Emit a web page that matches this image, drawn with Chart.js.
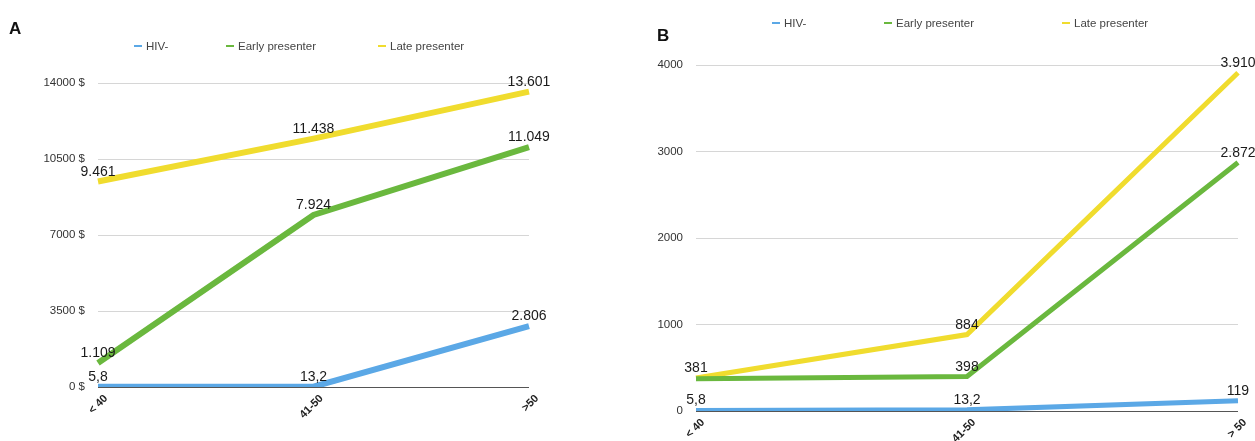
<!DOCTYPE html>
<html><head><meta charset="utf-8">
<script src="https://cdn.jsdelivr.net/npm/chart.js@4.4.1/dist/chart.umd.min.js"></script>
<style>
html,body{margin:0;padding:0;background:#fff;width:1255px;height:441px;overflow:hidden;font-family:"Liberation Sans",Arial,sans-serif;}
canvas{position:absolute;top:0;}
#ca{left:0;} #cb{left:620px;}
.letter{position:absolute;font-weight:bold;font-size:17px;color:#111;line-height:17px;}
.leg{position:absolute;font-size:11.5px;color:#444;line-height:12px;white-space:nowrap;}
.mk{position:absolute;height:2px;width:8px;}
</style></head>
<body>
<canvas id="ca" width="620" height="441"></canvas>
<canvas id="cb" width="635" height="441"></canvas>
<div class="letter" style="left:9px;top:20px;">A</div>
<div class="letter" style="left:657px;top:27px;">B</div>
<div id="legA"></div><div id="legB"></div>
<script>
// ---- data ----
const categoriesA = ['< 40', '41-50', '>50'];
const categoriesB = ['< 40', '41-50', '> 50'];
const seriesNames = ['HIV-', 'Early presenter', 'Late presenter'];
const hivA   = [5.8, 13.2, 2806];
const earlyA = [1109, 7924, 11049];
const lateA  = [9461, 11438, 13601];
const hivB   = [5.8, 13.2, 119];
const earlyB = [372, 398, 2872];
const lateB  = [381, 884, 3910];
const yTicksA = [0, 3500, 7000, 10500, 14000];
const yTicksB = [0, 1000, 2000, 3000, 4000];
const hiddenLabelsB = {1: [0]}; // early presenter's first label sits under the late presenter's one

// ---- styling ----
const colors = ['#5ba8e6', '#6ab83e', '#f0dc2e'];
const FONT = '"Liberation Sans", Arial, sans-serif';

function fmt(v) {
  if (Number.isInteger(v)) return String(v).replace(/\B(?=(\d{3})+(?!\d))/g, '.');
  return String(v).replace('.', ',');
}

const valueLabels = {
  id: 'valueLabels',
  afterDatasetsDraw(chart, args, o) {
    const ctx = chart.ctx;
    ctx.save();
    ctx.font = '14px ' + FONT;
    ctx.fillStyle = '#1a1a1a';
    ctx.textAlign = 'center';
    ctx.textBaseline = 'alphabetic';
    const hidden = (o && o.hidden) || {};
    chart.data.datasets.forEach((ds, i) => {
      const meta = chart.getDatasetMeta(i);
      const hide = hidden[i] || [];
      meta.data.forEach((pt, j) => {
        if (hide.includes(j)) return;
        ctx.fillText(fmt(ds.data[j]), pt.x, pt.y - 6);
      });
    });
    ctx.restore();
  }
};

function makeChart(id, cats, series, ticks, cfg) {
  return new Chart(document.getElementById(id), {
    type: 'line',
    data: {
      labels: cats,
      datasets: series.map((d, i) => ({
        label: seriesNames[i], data: d, borderColor: colors[i], backgroundColor: colors[i],
        borderWidth: cfg.lw, pointRadius: 0, tension: 0, fill: false,
        borderCapStyle: 'butt', borderJoinStyle: 'miter'
      }))
    },
    options: {
      responsive: false, animation: false, devicePixelRatio: 1,
      layout: { padding: { left: 0, right: cfg.padRight, top: cfg.padTop, bottom: 0 } },
      plugins: { legend: { display: false }, tooltip: { enabled: false }, valueLabels: { hidden: cfg.hidden || {} } },
      scales: {
        x: {
          offset: false,
          grid: { display: false, drawTicks: false },
          border: { display: false },
          ticks: { minRotation: 45, maxRotation: 45, padding: 5, labelOffset: cfg.xOff, color: '#222',
                   font: { family: FONT, size: 11, weight: 'bold' } },
          afterFit(s) { s.height = cfg.xHeight; }
        },
        y: {
          min: ticks[0], max: ticks[ticks.length - 1],
          afterBuildTicks(s) { s.ticks = ticks.map(v => ({ value: v })); },
          grid: {
            drawTicks: false, lineWidth: 1,
            color: c => (c.tick && c.tick.value === 0) ? '#555' : '#d6d6d6'
          },
          border: { display: false },
          ticks: { padding: cfg.labelPad, color: '#333', font: { family: FONT, size: 11.5 },
                   callback: v => v + cfg.suffix },
          afterFit(s) { s.width = cfg.yWidth; }
        }
      }
    },
    plugins: [valueLabels]
  });
}

makeChart('ca', categoriesA, [hivA, earlyA, lateA], yTicksA,
  { lw: 6, padRight: 91, padTop: 83, xHeight: 54, yWidth: 98, labelPad: 13, suffix: ' $', xOff: 8 });
makeChart('cb', categoriesB, [hivB, earlyB, lateB], yTicksB,
  { lw: 5, padRight: 17, padTop: 65, xHeight: 30, yWidth: 76, labelPad: 13, suffix: '', xOff: 7, hidden: hiddenLabelsB });

function legend(el, markX, y) {
  const host = document.getElementById(el);
  seriesNames.forEach((n, i) => {
    const m = document.createElement('div');
    m.className = 'mk';
    m.style.left = markX[i] + 'px'; m.style.top = (y - 1) + 'px'; m.style.background = colors[i];
    host.appendChild(m);
    const t = document.createElement('div');
    t.className = 'leg';
    t.textContent = n;
    t.style.left = (markX[i] + 12) + 'px'; t.style.top = (y - 6) + 'px';
    host.appendChild(t);
  });
}
legend('legA', [134, 226, 378], 46);
legend('legB', [772, 884, 1062], 23);
</script>
</body></html>
